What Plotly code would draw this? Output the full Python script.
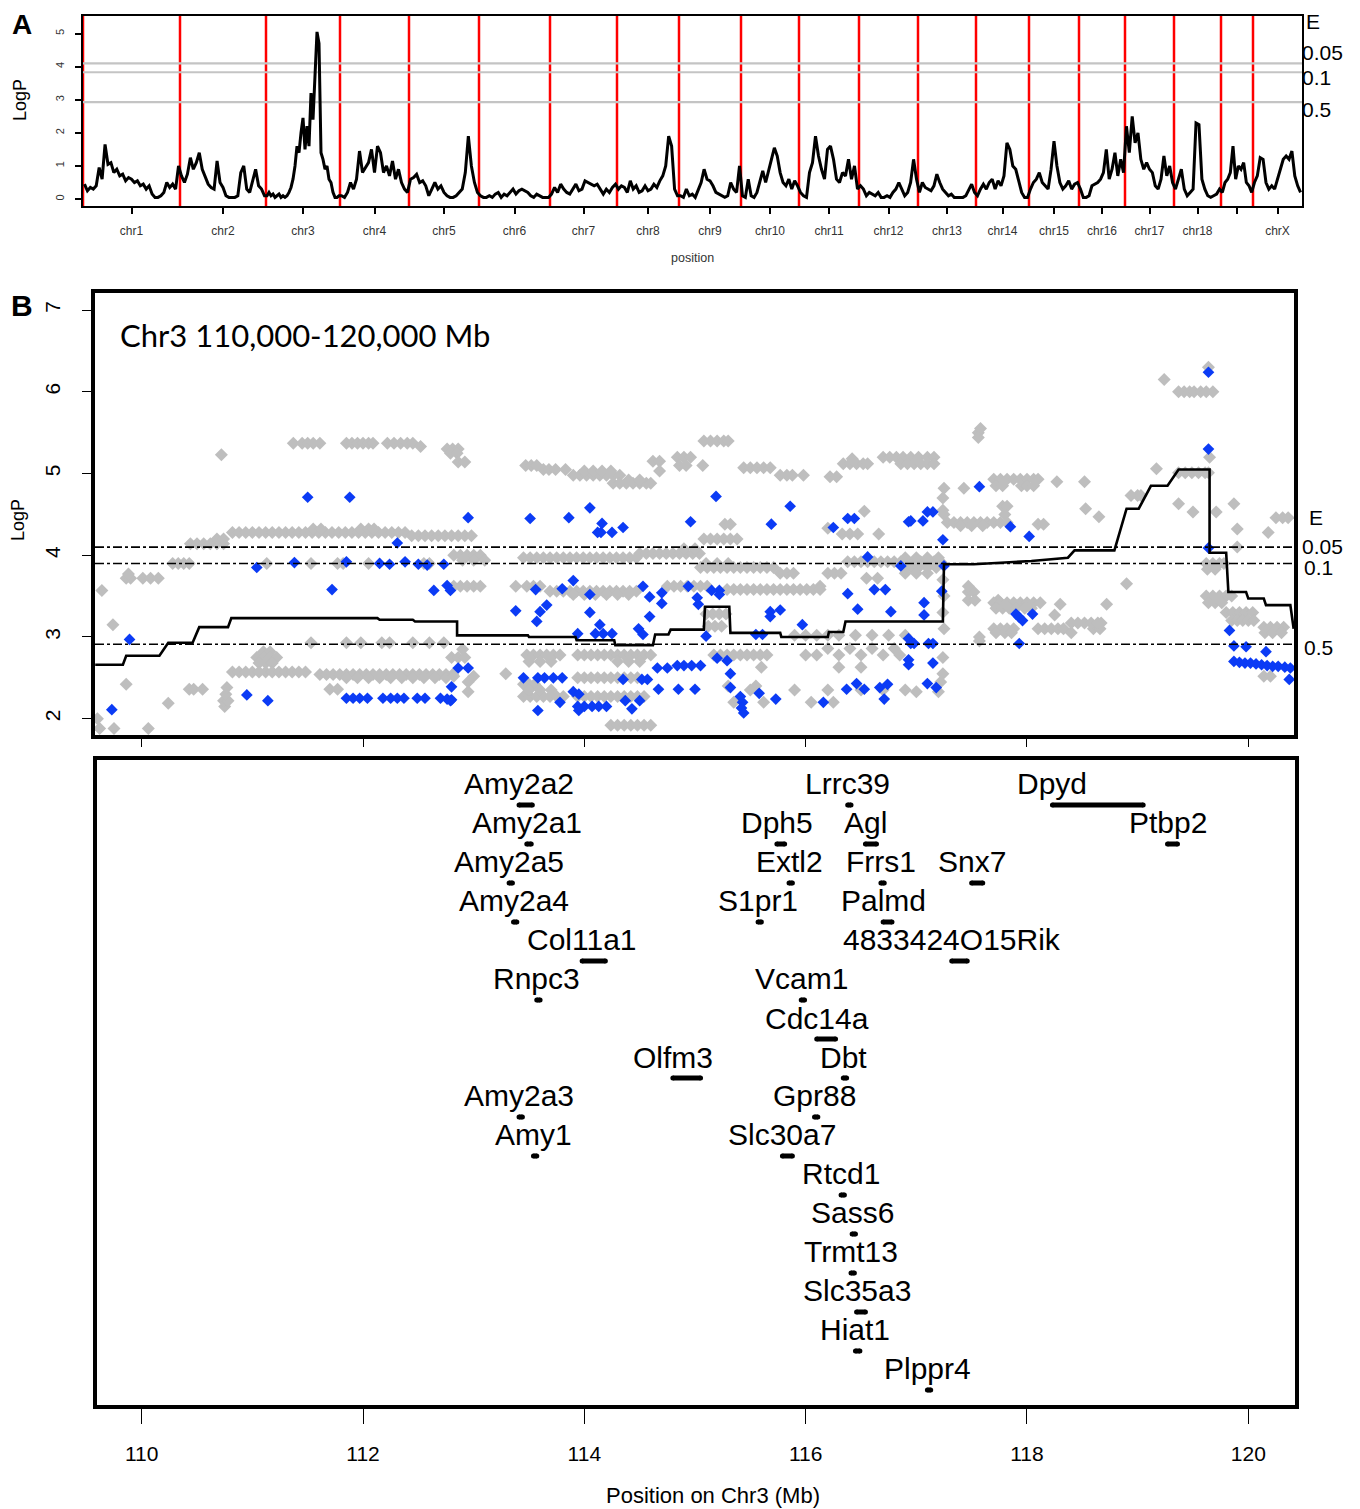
import plotly.graph_objects as go

# The page body has an 8px margin, so the figure is drawn 8px in from the top-left.
OFF = 8
W, H = 1360 - OFF, 1509 - OFF


def PX(x):
    return (x - OFF) / W


def PY(y):
    return 1 - (y - OFF) / H


FONT = "Liberation Sans, Arial, sans-serif"

# ---------------- Panel A: genome scan ----------------
chrom_names = ["chr1", "chr2", "chr3", "chr4", "chr5", "chr6", "chr7", "chr8", "chr9", "chr10",
               "chr11", "chr12", "chr13", "chr14", "chr15", "chr16", "chr17", "chr18", "chr19", "chrX"]
chrom_tick_labels = ["chr1", "chr2", "chr3", "chr4", "chr5", "chr6", "chr7", "chr8", "chr9", "chr10",
                     "chr11", "chr12", "chr13", "chr14", "chr15", "chr16", "chr17", "chr18", "", "chrX"]
chrom_lengths = [97, 86, 74, 69, 70, 71, 67, 62, 62, 58, 60, 59, 58, 53, 50, 46, 49, 47, 32, 49]

lod_chr1 = [0.45, 0.25, 0.35, 0.3, 0.4, 0.95, 0.6, 1.65, 1.05, 1.1, 0.8, 0.9, 0.7, 0.75, 0.55, 0.65, 0.6,
            0.5, 0.55, 0.4, 0.45, 0.3, 0.4, 0.15, 0.05, 0.05, 0.1, 0.2, 0.5, 0.35, 0.45, 0.3, 1.0]
lod_chr2 = [0.7, 0.5, 0.75, 1.25, 0.9, 1.1, 1.4, 0.9, 0.7, 0.45, 0.35, 0.3, 1.15, 0.5, 0.35, 0.1, 0.05,
            0.05, 0.05, 0.1, 0.8, 1.0, 0.3, 0.2, 0.6, 0.9, 0.4, 0.3, 0.1]
lod_chr3 = [0.1, 0.2, 0.1, 0.15, 0.05, 0.1, 0.15, 0.05, 0.1, 0.05, 0.1, 0.2, 0.35, 0.6, 1.0, 1.6, 1.4,
            2.0, 2.45, 1.5, 2.2, 1.6, 3.2, 2.4, 3.6, 5.05, 4.7, 1.4, 1.2, 0.9, 1.0, 0.6, 0.5, 0.2, 0.05,
            0.05, 0.1]
lod_chr4 = [0.1, 0.05, 0.2, 0.5, 0.3, 0.6, 1.45, 0.8, 0.95, 1.1, 1.5, 0.8, 1.6, 1.4, 0.8, 1.0, 0.7, 1.15,
            0.6, 0.9, 0.5, 0.3, 0.2]
lod_chr5 = [0.6, 0.65, 0.75, 0.5, 0.55, 0.4, 0.1, 0.3, 0.5, 0.3, 0.4, 0.2, 0.1, 0.05, 0.05, 0.1, 0.2,
            0.3, 0.8, 1.9, 1.0, 0.5, 0.2]
lod_chr6 = [0.1, 0.05, 0.05, 0.1, 0.05, 0.15, 0.2, 0.05, 0.15, 0.1, 0.2, 0.3, 0.15, 0.25, 0.3, 0.25, 0.2,
            0.1, 0.05, 0.15, 0.1, 0.05, 0.05, 0.05]
lod_chr7 = [0.15, 0.35, 0.2, 0.45, 0.3, 0.2, 0.15, 0.3, 0.45, 0.25, 0.3, 0.55, 0.5, 0.45, 0.4, 0.45, 0.3,
            0.15, 0.3, 0.2, 0.35, 0.45]
lod_chr8 = [0.3, 0.4, 0.35, 0.2, 0.55, 0.3, 0.4, 0.2, 0.25, 0.4, 0.25, 0.3, 0.45, 0.35, 0.55, 0.7, 1.0,
            1.9, 1.6, 0.3, 0.1]
lod_chr9 = [0.1, 0.05, 0.3, 0.1, 0.15, 0.05, 0.25, 0.5, 0.9, 0.6, 0.55, 0.4, 0.2, 0.15, 0.1, 0.05, 0.1,
            0.5, 0.3, 0.2, 1.0]
lod_chr10 = [0.1, 0.05, 0.6, 0.1, 0.05, 0.2, 0.5, 0.85, 0.5, 0.9, 1.2, 1.55, 1.3, 0.8, 0.5, 0.4, 0.6, 0.3,
             0.55, 0.4]
lod_chr11 = [0.2, 0.1, 0.05, 0.8, 1.1, 1.9, 1.3, 0.9, 0.6, 1.5, 1.6, 1.2, 0.6, 0.5, 0.8, 0.7, 1.2, 0.6,
             1.0, 0.3]
lod_chr12 = [0.4, 0.3, 0.1, 0.2, 0.15, 0.1, 0.2, 0.05, 0.05, 0.1, 0.05, 0.2, 0.3, 0.5, 0.3, 0.1, 0.2, 0.5,
             1.2, 0.6]
lod_chr13 = [0.2, 0.5, 0.35, 0.3, 0.25, 0.4, 0.75, 0.5, 0.3, 0.2, 0.1, 0.15, 0.05, 0.05, 0.05, 0.05, 0.1,
             0.3, 0.45, 0.2]
lod_chr14 = [0.1, 0.3, 0.45, 0.3, 0.5, 0.6, 0.3, 0.55, 0.4, 0.7, 1.7, 1.5, 1.0, 0.9, 0.5, 0.2, 0.05, 0.05]
lod_chr15 = [0.3, 0.5, 0.6, 0.8, 0.5, 0.4, 0.3, 0.9, 1.75, 1.0, 0.5, 0.3, 0.4, 0.55, 0.3, 0.45, 0.5]
lod_chr16 = [0.3, 0.05, 0.05, 0.1, 0.4, 0.45, 0.5, 0.6, 0.8, 1.5, 0.6, 0.9, 1.4, 0.7, 1.2, 0.8]
lod_chr17 = [2.2, 1.4, 2.5, 1.7, 2.0, 1.2, 0.9, 1.1, 0.9, 0.8, 0.4, 0.3, 0.6, 1.3, 0.7, 1.0, 0.5]
lod_chr18 = [0.3, 0.6, 0.9, 0.3, 0.1, 0.2, 0.3, 2.3, 2.25, 0.6, 0.3, 0.1, 0.05, 0.1, 0.15, 0.3]
lod_chr19 = [0.2, 0.5, 0.6, 0.8, 1.6, 0.6, 1.0, 0.9, 1.1, 0.5, 0.4, 0.2]
lod_chrX = [0.5, 0.7, 1.25, 1.2, 0.5, 0.3, 0.4, 0.3, 0.6, 0.9, 1.2, 1.3, 1.2, 1.45, 0.7, 0.4, 0.2]

genome_lod = [lod_chr1, lod_chr2, lod_chr3, lod_chr4, lod_chr5, lod_chr6, lod_chr7, lod_chr8, lod_chr9,
              lod_chr10, lod_chr11, lod_chr12, lod_chr13, lod_chr14, lod_chr15, lod_chr16, lod_chr17,
              lod_chr18, lod_chr19, lod_chrX]

thresholds_A = [4.10, 3.83, 2.93]
threshold_names = ["0.05", "0.1", "0.5"]

# ---------------- Panel B: Chr3 region ----------------
gray_rows = [
    (5.37, [111.37, 111.45, 111.5, 111.55, 111.61, 111.85, 111.9, 111.95, 112.0, 112.05, 112.09,
            112.22, 112.28, 112.34, 112.4, 112.45]),
    (5.33, [112.52]),
    (5.30, [112.76, 112.81, 112.86]),
    (5.25, [112.79, 112.85]),
    (5.14, [112.86, 112.92]),
    (5.23, [110.72]),
    (4.14, [110.44, 110.5, 110.56, 110.62, 110.68, 110.74]),
    (4.20, [110.68, 110.74]),
    (4.28, [110.82, 110.88, 110.94, 111.0, 111.06, 111.12, 111.18, 111.24, 111.3, 111.36, 111.42,
            111.48, 111.54, 111.6, 111.66, 111.72, 111.78, 111.84, 111.9, 111.96, 112.02, 112.08,
            112.14, 112.2, 112.26, 112.32, 112.38]),
    (4.24, [112.44, 112.5, 112.56, 112.62, 112.68, 112.74, 112.8, 112.86, 112.92, 112.98]),
    (4.32, [111.55, 111.62, 111.98, 112.05, 112.1]),
    (3.90, [110.28, 110.33, 110.38, 110.43, 111.13, 111.53, 111.77, 111.82, 112.05, 112.55, 112.6]),
    (3.72, [109.86, 109.9, 110.01, 110.08, 110.15]),
    (3.77, [109.88]),
    (3.57, [109.64]),
    (3.15, [109.74]),
    (2.93, [111.53, 111.85, 111.98, 112.17, 112.24, 112.45, 112.6, 112.73]),
    (2.82, [111.1, 111.16]),
    (2.75, [111.04, 111.1, 111.16, 111.22, 112.8, 112.86, 112.92]),
    (2.68, [111.06, 111.12, 111.18]),
    (2.57, [110.82, 110.88, 110.94, 111.0, 111.06, 111.12, 111.18, 111.24, 111.3, 111.36, 111.42,
            111.48]),
    (2.54, [111.61, 111.67, 111.73, 111.79, 111.85, 111.91, 111.97, 112.03, 112.09, 112.15, 112.21,
            112.27, 112.33, 112.39, 112.45, 112.51, 112.57, 112.63, 112.69, 112.75, 112.81]),
    (2.50, [111.85, 111.95, 112.05, 112.15, 112.25, 112.35, 112.45, 112.55, 112.65, 112.75]),
    (2.42, [109.86]),
    (2.36, [110.43, 110.47, 110.55, 111.7, 111.77]),
    (2.19, [110.24]),
    (2.15, [110.75]),
    (2.22, [110.74, 110.78]),
    (2.30, [110.76]),
    (2.38, [110.77]),
    (1.88, [109.62, 109.75, 110.06]),
    (2.00, [109.6]),
    (4.00, [112.82, 112.88, 112.94, 113.0, 113.06]),
    (3.94, [112.9, 113.0, 113.1]),
    (3.62, [112.82, 112.88, 112.94, 113.0, 113.06]),
    (2.85, [112.9]),
    (2.52, [112.82, 113.0]),
    (2.45, [112.95]),
    (2.33, [112.95]),
    (2.55, [113.29]),
    # middle block
    (5.10, [113.47, 113.52, 113.57]),
    (5.05, [113.63, 113.68, 113.74, 113.83]),
    (4.98, [113.9, 113.96, 114.02, 114.08, 114.14, 114.2, 114.26, 114.32]),
    (5.03, [114.0, 114.08, 114.16, 114.24]),
    (4.88, [114.26, 114.32, 114.38, 114.44, 114.5, 114.56, 114.6]),
    (4.92, [114.4, 114.5]),
    (5.15, [114.62, 114.68]),
    (5.03, [114.68]),
    (5.20, [114.84, 114.9, 114.96]),
    (5.10, [114.86, 114.92, 115.07]),
    (5.40, [115.08, 115.14, 115.2, 115.26, 115.3]),
    (5.07, [115.44, 115.5, 115.56, 115.62, 115.68]),
    (4.98, [115.77, 115.83, 115.88, 115.98]),
    (4.96, [116.22, 116.28]),
    (5.12, [116.34, 116.4, 116.46, 116.52, 116.56]),
    (5.18, [116.42]),
    (5.20, [116.7, 116.76, 116.82, 116.88, 116.95, 117.02, 117.1, 117.16]),
    (5.12, [116.86, 116.92, 116.98, 117.04, 117.1, 117.16]),
    (4.54, [116.53]),
    (4.38, [115.27, 115.32]),
    (4.33, [116.2]),
    (4.26, [116.33, 116.4, 116.47, 116.66]),
    (4.20, [115.08, 115.14, 115.2, 115.26, 115.32, 115.38]),
    (4.02, [114.5, 114.56, 114.62, 114.68, 114.74, 114.8, 114.86, 114.92, 114.98, 115.04]),
    (4.08, [114.9, 115.0]),
    (3.97, [113.45, 113.51, 113.57, 113.63, 113.69, 113.75, 113.81, 113.87, 113.93, 113.99, 114.05,
            114.11, 114.17, 114.23, 114.29, 114.35, 114.41, 114.47]),
    (3.85, [115.05, 115.11, 115.17, 115.23, 115.29, 115.35, 115.41, 115.47, 115.53, 115.59, 115.65,
            115.71]),
    (3.90, [115.1, 115.2, 115.3]),
    (3.78, [115.77, 115.83, 115.89, 116.2, 116.26, 116.32]),
    (3.92, [116.38, 116.44, 116.5, 116.56, 116.62, 116.68, 116.74, 116.8, 116.86, 116.92, 116.98,
            117.04, 117.1, 117.16, 117.22]),
    (3.97, [116.9, 117.0, 117.1, 117.2]),
    (3.85, [116.9, 116.96, 117.02, 117.1, 117.18]),
    (3.78, [116.9, 117.0, 117.1]),
    (3.62, [113.38, 113.48, 113.54, 113.6, 114.75, 114.81, 114.87, 114.93, 114.99, 115.05, 115.11,
            116.13]),
    (3.56, [113.69, 113.75, 113.81, 113.87, 113.93, 113.99, 114.05, 114.11, 114.17, 114.23, 114.29,
            114.35, 114.41, 114.47]),
    (3.52, [113.9, 114.0, 114.1, 114.2, 114.3, 114.4]),
    (3.58, [115.29, 115.35, 115.41, 115.47, 115.53, 115.59, 115.65, 115.71, 115.77, 115.83, 115.89,
            115.95, 116.01, 116.07, 116.13]),
    (3.72, [116.55, 116.65]),
    (3.28, [115.1, 115.16, 115.22, 115.28]),
    (3.13, [115.12, 115.18, 115.24]),
    (3.02, [115.9, 116.0, 116.1, 116.2, 116.3, 116.45, 116.6, 116.75, 116.9]),
    (2.78, [113.48, 113.54, 113.6, 113.66, 113.72, 113.78, 113.94, 114.0, 114.06, 114.12, 114.18,
            114.24, 114.3, 114.36, 114.42, 114.48, 114.54, 114.6, 115.17, 115.23, 115.29, 115.35,
            115.41, 115.47, 115.53, 115.59, 115.65, 116.0, 116.1, 116.3, 116.5, 116.7, 116.85]),
    (2.86, [116.2, 116.4, 116.6, 116.8]),
    (2.70, [113.5, 113.6, 113.7, 114.3, 114.4, 114.5]),
    (2.50, [113.94, 114.0, 114.06, 114.12, 114.18, 114.24, 114.3, 114.36, 114.42, 114.48]),
    (2.63, [115.6, 116.3, 116.5]),
    (2.42, [113.45, 113.5, 113.55]),
    (2.27, [113.45, 113.51, 113.57, 113.63, 113.69, 113.75, 113.81, 113.94, 114.0, 114.06, 114.12,
            114.18, 114.24, 114.3, 114.36, 114.42, 114.48, 114.54]),
    (2.35, [113.5, 113.6, 113.7, 115.5, 115.9, 116.2, 116.5, 116.7, 116.9]),
    (2.40, [115.3, 115.55]),
    (2.20, [115.35, 115.62, 116.05, 116.25]),
    (1.92, [114.24, 114.3, 114.36, 114.42, 114.48, 114.54, 114.6]),
    # right block
    (5.50, [117.56]),
    (5.55, [117.58]),
    (5.44, [117.56]),
    (4.93, [117.7, 117.76, 117.82, 117.88, 117.94, 118.0, 118.06, 118.1]),
    (4.85, [117.72, 117.78, 117.95, 118.0, 118.06]),
    (4.90, [118.27, 118.52]),
    (4.82, [117.25, 117.43]),
    (4.40, [117.28, 117.34, 117.4, 117.46, 117.52, 117.58, 117.64, 117.7, 117.76, 117.82]),
    (4.36, [117.4, 117.5, 117.6]),
    (4.60, [117.78, 117.82]),
    (4.50, [117.25, 117.8]),
    (4.38, [118.1, 118.15]),
    (4.57, [118.53]),
    (4.47, [118.65]),
    (4.73, [118.94, 119.0, 119.03]),
    (5.06, [119.17]),
    (6.15, [119.24]),
    (6.00, [119.37, 119.42, 119.47, 119.51, 119.57, 119.62, 119.68]),
    (6.30, [119.64]),
    (5.20, [119.65]),
    (5.01, [119.37, 119.43, 119.49, 119.55, 119.61, 119.64]),
    (4.63, [119.37, 119.87]),
    (4.53, [119.5, 119.71]),
    (4.32, [119.9]),
    (4.28, [120.18]),
    (4.46, [120.25, 120.31, 120.36]),
    (4.10, [119.9]),
    (3.90, [119.62, 119.68, 119.74, 119.78]),
    (3.83, [119.63, 119.7]),
    (3.50, [119.62, 119.68, 119.74, 119.8, 119.85]),
    (3.42, [119.64, 119.7, 119.76]),
    (3.30, [119.8, 119.86, 119.92, 119.98, 120.04]),
    (3.20, [119.85, 119.9, 119.95, 120.0, 120.05]),
    (3.12, [120.14, 120.2, 120.26, 120.32]),
    (3.05, [120.15, 120.22, 120.3]),
    (2.52, [120.14, 120.2]),
    (3.65, [118.9]),
    (3.55, [117.47, 117.52]),
    (3.45, [117.47, 117.53, 117.74]),
    (3.62, [117.47]),
    (3.42, [117.7, 117.76, 117.82, 117.88, 117.94, 118.0, 118.06, 118.12]),
    (3.35, [117.72, 117.78, 117.84, 117.9, 117.98, 118.04]),
    (3.40, [118.3, 118.72]),
    (3.27, [118.25]),
    (3.10, [117.7, 117.76, 117.82, 117.88, 118.1, 118.16, 118.22, 118.28, 118.33, 118.6, 118.66]),
    (3.05, [117.72, 117.8, 117.86, 118.4]),
    (3.17, [118.4, 118.46, 118.52, 118.58, 118.64, 118.67]),
    (3.00, [117.57]),
    (2.95, [117.57]),
    (4.55, [117.24]),
    (4.70, [117.24]),
    (3.70, [117.24]),
    (3.50, [117.25]),
    (3.30, [117.24]),
    (3.10, [117.25]),
    (2.75, [117.24]),
    (2.55, [117.24]),
    (2.45, [117.22]),
    (2.33, [117.0, 117.2]),
]

blue_left = [
    (109.89, 2.97), (109.73, 2.11), (110.95, 2.29), (111.14, 2.22),
    (111.85, 2.25), (111.91, 2.25), (111.97, 2.25), (112.04, 2.25), (112.18, 2.25), (112.25, 2.25),
    (112.31, 2.25), (112.37, 2.25), (112.49, 2.25), (112.56, 2.25), (112.7, 2.25), (112.76, 2.24),
    (112.8, 2.23), (111.5, 4.71), (111.88, 4.71), (111.04, 3.85), (111.38, 3.91), (111.72, 3.58),
    (111.85, 3.92), (112.31, 4.15), (112.15, 3.9), (112.24, 3.89), (112.38, 3.92), (112.5, 3.89),
    (112.58, 3.88), (112.73, 3.89), (112.64, 3.57), (112.76, 3.63), (112.79, 3.57), (112.95, 4.46),
    (112.86, 2.62), (112.95, 2.62), (112.8, 2.39), (112.79, 2.22),
]
blue_mid = [
    (113.51, 4.45), (113.86, 4.46), (114.05, 4.58), (114.16, 4.39), (114.12, 4.28), (114.15, 4.28),
    (114.25, 4.28), (114.35, 4.34), (114.96, 4.41), (115.19, 4.72), (115.69, 4.38), (115.86, 4.6),
    (116.25, 4.34), (116.38, 4.45), (116.44, 4.45), (116.93, 4.41), (116.56, 3.98), (116.86, 3.87),
    (113.38, 3.32), (113.56, 3.58), (113.6, 3.31), (113.66, 3.39), (113.57, 3.19), (113.8, 3.59),
    (113.9, 3.69), (114.05, 3.52), (114.05, 3.3), (113.94, 3.04), (114.14, 3.15), (114.1, 3.04),
    (114.17, 3.04), (114.25, 3.04), (114.49, 3.1), (114.53, 3.03), (114.53, 3.62), (114.59, 3.49),
    (114.59, 3.25), (114.7, 3.54), (114.7, 3.41), (114.94, 3.62), (115.02, 3.48), (115.03, 3.4),
    (115.15, 3.57), (115.22, 3.57), (115.22, 3.52), (115.1, 3.01), (115.68, 3.31), (115.68, 3.25),
    (115.77, 3.33), (115.55, 3.03), (115.61, 3.03), (115.97, 3.15), (116.38, 3.53), (116.47, 3.34),
    (116.62, 3.58), (116.72, 3.58), (116.77, 3.31), (116.93, 2.98), (116.93, 2.72),
    (113.45, 2.5), (113.58, 2.5), (113.64, 2.5), (113.72, 2.5), (113.8, 2.5), (113.9, 2.33),
    (113.95, 2.3), (113.78, 2.2), (113.58, 2.1), (113.94, 2.15), (114.0, 2.15), (114.07, 2.15),
    (114.13, 2.15), (114.2, 2.15), (113.95, 2.1), (114.35, 2.48), (114.52, 2.48), (114.57, 2.48),
    (114.37, 2.22), (114.5, 2.22), (114.43, 2.12), (114.66, 2.62), (114.75, 2.62), (114.67, 2.36),
    (114.84, 2.65), (114.9, 2.65), (114.97, 2.65), (115.05, 2.65), (114.85, 2.36), (115.0, 2.36),
    (115.2, 2.74), (115.29, 2.71), (115.32, 2.55), (115.32, 2.38), (115.41, 2.27), (115.43, 2.2),
    (115.42, 2.13), (115.44, 2.07), (115.58, 2.31), (115.73, 2.24), (116.16, 2.2), (116.37, 2.36),
    (116.46, 2.43), (116.53, 2.36), (116.67, 2.38), (116.71, 2.24), (116.74, 2.42),
]
blue_right = [
    (117.57, 4.84), (116.95, 4.42), (117.06, 4.42), (117.1, 4.53), (117.15, 4.53), (117.24, 4.19),
    (117.85, 4.35), (118.02, 4.23), (117.25, 3.87), (117.23, 3.56), (117.07, 3.42), (117.07, 3.27),
    (116.95, 2.92), (116.98, 2.92), (117.11, 2.92), (117.15, 2.92), (116.93, 2.66), (117.15, 2.68),
    (117.1, 2.43), (117.18, 2.38), (117.9, 3.28), (117.93, 3.24), (117.96, 3.2), (118.05, 3.28),
    (117.93, 2.92), (119.64, 6.24), (119.64, 5.3), (119.64, 4.09), (119.83, 3.08), (119.87, 2.89),
    (119.98, 2.88), (120.16, 2.82), (119.87, 2.7), (119.92, 2.69), (119.97, 2.68), (120.02, 2.68),
    (120.07, 2.67), (120.12, 2.66), (120.17, 2.65), (120.22, 2.64), (120.27, 2.64), (120.33, 2.63),
    (120.38, 2.62), (120.37, 2.48),
]

step_x = [109.58, 109.83, 109.86, 110.16, 110.24, 110.46, 110.52, 110.78, 110.81, 112.13, 112.15,
          112.45, 112.47, 112.85, 112.85, 113.49, 113.5, 113.92, 113.93, 114.27, 114.28, 114.62,
          114.64, 114.76, 114.78, 115.08, 115.09, 115.31, 115.32, 115.77, 115.78, 116.2, 116.21,
          116.34, 116.36, 117.24, 117.25, 117.52, 118.04, 118.37, 118.43, 118.79, 118.9, 119.01,
          119.12, 119.27, 119.37, 119.65, 119.65, 119.8, 119.82, 119.98, 120.0, 120.14, 120.16,
          120.38, 120.41]
step_y = [2.66, 2.66, 2.77, 2.77, 2.93, 2.93, 3.12, 3.12, 3.23, 3.23, 3.21, 3.21, 3.19, 3.19, 3.02,
          3.02, 3.0, 3.0, 2.96, 2.96, 2.9, 2.9, 3.03, 3.03, 3.09, 3.09, 3.37, 3.37, 3.05, 3.05, 3.0,
          3.0, 3.06, 3.06, 3.19, 3.19, 3.89, 3.89, 3.93, 3.97, 4.06, 4.06, 4.57, 4.57, 4.85, 4.85,
          5.05, 5.05, 4.03, 4.03, 3.55, 3.55, 3.47, 3.47, 3.39, 3.39, 3.1]

thresholds_B = [4.10, 3.90, 2.91]

# ---------------- Gene track ----------------
gene_names = ["Amy2a2", "Lrrc39", "Dpyd",
              "Amy2a1", "Dph5", "Agl", "Ptbp2",
              "Amy2a5", "Extl2", "Frrs1", "Snx7",
              "Amy2a4", "S1pr1", "Palmd",
              "Col11a1", "4833424O15Rik",
              "Rnpc3", "Vcam1",
              "Cdc14a",
              "Olfm3", "Dbt",
              "Amy2a3", "Gpr88",
              "Amy1", "Slc30a7",
              "Rtcd1", "Sass6", "Trmt13", "Slc35a3", "Hiat1", "Plppr4"]
gene_start = [113.41, 116.38, 118.23,
              113.48, 115.74, 116.54, 119.27,
              113.32, 115.85, 116.68, 117.50,
              113.36, 115.57, 116.70,
              113.98, 117.32,
              113.57, 115.96,
              116.10,
              114.80, 116.34,
              113.41, 116.08,
              113.54, 115.79,
              116.32, 116.42, 116.41, 116.46, 116.45, 117.10]
gene_end = [113.53, 116.41, 119.05,
            113.52, 115.81, 116.64, 119.36,
            113.35, 115.88, 116.71, 117.60,
            113.39, 115.60, 116.78,
            114.19, 117.46,
            113.60, 115.99,
            116.27,
            115.05, 116.37,
            113.44, 116.11,
            113.57, 115.88,
            116.35, 116.45, 116.44, 116.54, 116.49, 117.13]
gene_row = [0, 0, 0,
            1, 1, 1, 1,
            2, 2, 2, 2,
            3, 3, 3,
            4, 4,
            5, 5,
            6,
            7, 7,
            8, 8,
            9, 9,
            10, 11, 12, 13, 14, 15]

# ---------------- Build figure ----------------
fig = go.Figure()

chrom_starts = []
acc = 0
for L in chrom_lengths:
    chrom_starts.append(acc)
    acc += L
genome_total = acc
a_x, a_y = [], []
for s, L, vals in zip(chrom_starts, chrom_lengths, genome_lod):
    n = len(vals)
    for i, v in enumerate(vals):
        a_x.append(s + L * (i + 0.5) / n)
        a_y.append(v)
chrom_centers = [s + L / 2 for s, L in zip(chrom_starts, chrom_lengths)]

fig.add_trace(go.Scatter(x=a_x, y=a_y, mode="lines", line=dict(color="black", width=3),
                         xaxis="x", yaxis="y", showlegend=False, hoverinfo="skip"))

gx, gy = [], []
for yv, xs in gray_rows:
    for xv in xs:
        gx.append(xv)
        gy.append(yv)
fig.add_trace(go.Scatter(x=gx, y=gy, mode="markers",
                         marker=dict(symbol="diamond", size=10, color="#BEBEBE"),
                         xaxis="x2", yaxis="y2", showlegend=False, hoverinfo="skip"))
blue_all = blue_left + blue_mid + blue_right
fig.add_trace(go.Scatter(x=[p[0] for p in blue_all], y=[p[1] for p in blue_all], mode="markers",
                         marker=dict(symbol="diamond", size=9, color="#0B3BF5"),
                         xaxis="x2", yaxis="y2", showlegend=False, hoverinfo="skip"))
fig.add_trace(go.Scatter(x=step_x, y=step_y, mode="lines", line=dict(color="black", width=2.6),
                         xaxis="x2", yaxis="y2", showlegend=False, hoverinfo="skip"))

bx, by = [], []
for s, e, r in zip(gene_start, gene_end, gene_row):
    bx += [s, e, None]
    by += [r, r, None]
fig.add_trace(go.Scatter(x=bx, y=by, mode="lines+markers", line=dict(color="black", width=5),
                         marker=dict(size=5, color="black"),
                         xaxis="x3", yaxis="y3", showlegend=False, hoverinfo="skip"))

shapes = []
for s in chrom_starts:
    shapes.append(dict(type="line", xref="x", yref="y domain", x0=s, x1=s, y0=0, y1=1,
                       line=dict(color="#FF0000", width=2.5), layer="below"))
for t in thresholds_A:
    shapes.append(dict(type="line", xref="x domain", yref="y", x0=0, x1=1, y0=t, y1=t,
                       line=dict(color="#C4C4C4", width=2.2), layer="below"))
for t in thresholds_B:
    shapes.append(dict(type="line", xref="x2 domain", yref="y2", x0=0, x1=1, y0=t, y1=t,
                       line=dict(color="black", width=1.6, dash="dashdot")))

annotations = []


def ann(text, x, y, size, xanchor="center", angle=0, bold=False, family=FONT, color="black"):
    annotations.append(dict(text=("<b>%s</b>" % text) if bold else text, x=PX(x), y=PY(y),
                            xref="paper", yref="paper", xanchor=xanchor, yanchor="middle",
                            showarrow=False, textangle=angle,
                            font=dict(size=size, family=family, color=color)))


ann("A", 22, 25, 28, bold=True)
ann("B", 22, 305, 30, bold=True)
ann("LogP", 20, 100, 18, angle=-90)
ann("position", 692, 258, 12.5, color="#333333")
ann("E", 1304, 22, 21, xanchor="left")
ann(threshold_names[0], 1300, 53, 21, xanchor="left")
ann(threshold_names[1], 1300, 77, 21, xanchor="left")
ann(threshold_names[2], 1300, 109, 21, xanchor="left")

ann("Chr3 110,000-120,000 Mb", 118, 335, 31, xanchor="left", family="Lato, Open Sans, sans-serif")
ann("LogP", 18, 520, 18, angle=-90)
ann("E", 1307, 517, 21, xanchor="left")
ann(threshold_names[0], 1300, 546, 21, xanchor="left")
ann(threshold_names[1], 1302, 567, 21, xanchor="left")
ann(threshold_names[2], 1302, 647, 21, xanchor="left")
ann("Position on Chr3 (Mb)", 713, 1495, 22)

for name, s, r in zip(gene_names, gene_start, gene_row):
    annotations.append(dict(text=name, x=s, y=r, xref="x3", yref="y3", xanchor="center",
                            yanchor="middle", yshift=21, showarrow=False,
                            font=dict(size=30, family=FONT, color="black")))

mb_ticks = [110, 112, 114, 116, 118, 120]

fig.update_layout(
    width=W, height=H,
    margin=dict(l=0, r=0, t=0, b=0),
    paper_bgcolor="white", plot_bgcolor="white",
    showlegend=False,
    shapes=shapes,
    annotations=annotations,
    xaxis=dict(domain=[PX(83), PX(1302)], range=[0, genome_total], anchor="y",
               tickvals=chrom_centers, ticktext=chrom_tick_labels,
               ticks="outside", ticklen=6, tickwidth=1.5, tickcolor="black",
               ticklabelstandoff=7,
               tickfont=dict(size=12, family=FONT, color="#333333"),
               showline=True, mirror=True, linewidth=2, linecolor="black",
               showgrid=False, zeroline=False),
    yaxis=dict(domain=[PY(206), PY(16)], range=[-0.21, 5.53], anchor="x",
               tickvals=[0, 1, 2, 3, 4, 5], tickangle=-90,
               ticks="outside", ticklen=6, tickwidth=1.5, tickcolor="black",
               ticklabelstandoff=7,
               tickfont=dict(size=11, family=FONT, color="#333333"),
               showline=True, mirror=True, linewidth=2, linecolor="black",
               showgrid=False, zeroline=False),
    xaxis2=dict(domain=[PX(95), PX(1294)], range=[109.578, 120.413], anchor="y2",
                tickvals=mb_ticks, showticklabels=False,
                ticks="outside", ticklen=8, tickwidth=1.2, tickcolor="black",
                showline=True, mirror=True, linewidth=4, linecolor="black",
                showgrid=False, zeroline=False),
    yaxis2=dict(domain=[PY(735), PY(293)], range=[1.8, 7.21], anchor="x2",
                tickvals=[2, 3, 4, 5, 6, 7], tickangle=-90,
                ticks="outside", ticklen=9, tickwidth=1.2, tickcolor="black",
                ticklabelstandoff=14,
                tickfont=dict(size=21, family=FONT, color="black"),
                showline=True, mirror=True, linewidth=4, linecolor="black",
                showgrid=False, zeroline=False),
    xaxis3=dict(domain=[PX(97), PX(1295)], range=[109.596, 120.422], anchor="y3",
                tickvals=mb_ticks, ticktext=[str(t) for t in mb_ticks],
                ticks="outside", ticklen=15, tickwidth=1.2, tickcolor="black",
                ticklabelstandoff=12,
                tickfont=dict(size=21, family="Liberation Sans Narrow, Liberation Sans, Arial",
                              color="black"),
                showline=True, mirror=True, linewidth=4, linecolor="black",
                showgrid=False, zeroline=False),
    yaxis3=dict(domain=[PY(1405), PY(760)], range=[15.385, -1.154], anchor="x3",
                showticklabels=False, ticks="",
                showline=True, mirror=True, linewidth=4, linecolor="black",
                showgrid=False, zeroline=False),
)

fig.write_html("out.html")
